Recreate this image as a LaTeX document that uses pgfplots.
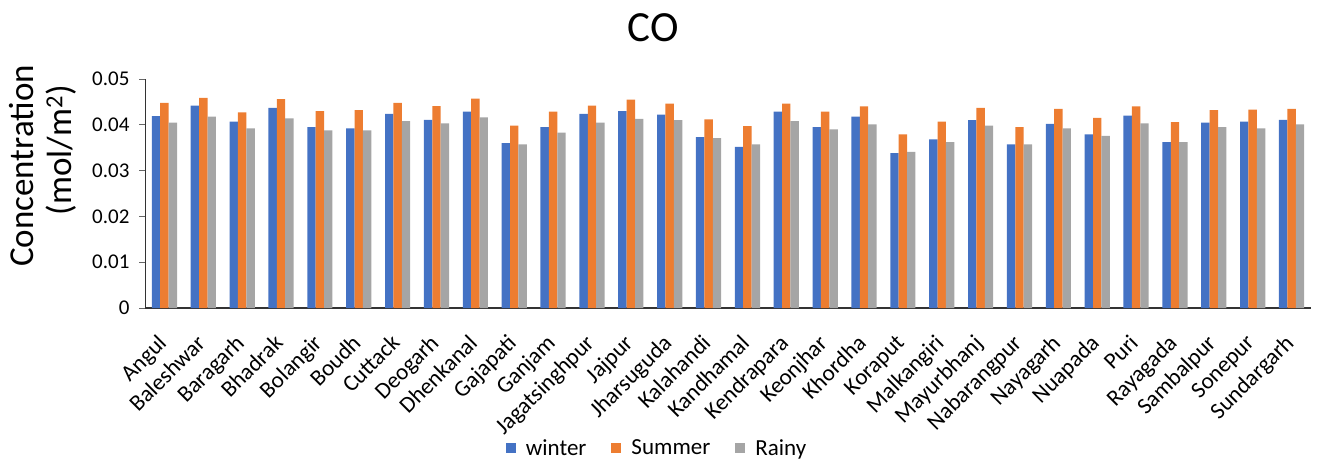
\documentclass[border=0pt]{standalone}
\usepackage{pgfplots}
\pgfplotsset{compat=1.18}
\usepackage{pgfplotstable}
\usepackage{fontspec}
\setmainfont{Carlito}

\definecolor{cwinter}{HTML}{4472C4}
\definecolor{csummer}{HTML}{ED7D31}
\definecolor{crainy}{HTML}{A5A5A5}

% CO column concentration (mol/m^2) by district and season
\pgfplotstableread{
idx winter summer rainy
0  0.0419 0.0448 0.0405
1  0.0442 0.0459 0.0418
2  0.0407 0.0427 0.0392
3  0.0437 0.0456 0.0414
4  0.0395 0.0430 0.0388
5  0.0392 0.0432 0.0388
6  0.0424 0.0448 0.0408
7  0.0411 0.0441 0.0403
8  0.0429 0.0457 0.0416
9  0.0360 0.0398 0.0357
10 0.0395 0.0429 0.0383
11 0.0424 0.0442 0.0405
12 0.0430 0.0455 0.0413
13 0.0422 0.0446 0.0410
14 0.0373 0.0412 0.0371
15 0.0352 0.0397 0.0357
16 0.0429 0.0446 0.0408
17 0.0395 0.0429 0.0390
18 0.0418 0.0440 0.0401
19 0.0338 0.0379 0.0341
20 0.0368 0.0407 0.0362
21 0.0410 0.0437 0.0398
22 0.0357 0.0395 0.0357
23 0.0402 0.0435 0.0392
24 0.0379 0.0415 0.0376
25 0.0420 0.0440 0.0403
26 0.0362 0.0406 0.0362
27 0.0405 0.0432 0.0395
28 0.0407 0.0433 0.0392
29 0.0411 0.0435 0.0401
}\codata

\begin{document}
\begin{tikzpicture}[x=1pt,y=1pt]
\useasboundingbox (0pt,0pt) rectangle (1319pt,463pt);
\begin{axis}[
  at={(145pt,155pt)}, anchor=south west,
  scale only axis, width=1166pt, height=229pt,
  ybar=0pt, bar width=8.4pt,
  xmin=-0.5, xmax=29.5, ymin=0, ymax=0.05,
  axis x line*=bottom, axis y line*=left,
  axis line style={black!80, line width=1pt},
  x axis line style={line width=1.3pt},
  xtick=data, major x tick style={draw=none},
  xticklabels={Angul,Baleshwar,Baragarh,Bhadrak,Bolangir,Boudh,Cuttack,Deogarh,Dhenkanal,Gajapati,Ganjam,Jagatsinghpur,Jajpur,Jharsuguda,Kalahandi,Kandhamal,Kendrapara,Keonjhar,Khordha,Koraput,Malkangiri,Mayurbhanj,Nabarangpur,Nayagarh,Nuapada,Puri,Rayagada,Sambalpur,Sonepur,Sundargarh},
  xticklabel style={xshift=-8pt, yshift=-19pt, rotate=45, anchor=north east,
    inner sep=0pt, font=\fontsize{23}{25}\selectfont},
  scaled y ticks=false,
  ytick={0,0.01,0.02,0.03,0.04,0.05},
  yticklabels={0,0.01,0.02,0.03,0.04,0.05},
  yticklabel style={font=\fontsize{21}{23}\selectfont, xshift=-6pt},
  tick align=outside, major tick length=6pt,
  major y tick style={black!60, line width=0.8pt},
  legend columns=3,
  legend style={at={(0.4392,-0.611)}, anchor=center, draw=none,
    font=\fontsize{23}{25}\selectfont,
    /tikz/every odd column/.append style={column sep=8pt},
    /tikz/every even column/.append style={column sep=23pt}},
  legend image code/.code={\fill[#1] (0pt,-5pt) rectangle (10pt,5pt);},
]
\addplot[fill=cwinter, draw=none] table[x=idx, y=winter] {\codata};
\addplot[fill=csummer, draw=none] table[x=idx, y=summer] {\codata};
\addplot[fill=crainy, draw=none] table[x=idx, y=rainy] {\codata};
\legend{winter,Summer,Rainy}
\end{axis}
\node[font=\fontsize{43}{46}\selectfont] at (653pt,435pt) {CO};
\node[rotate=90, font=\fontsize{35}{40}\selectfont] at (22pt,297pt) {Concentration};
\node[rotate=90, font=\fontsize{35}{40}\selectfont] at (61pt,313pt) {(mol/m\textsuperscript{2})};
\end{tikzpicture}
\end{document}
